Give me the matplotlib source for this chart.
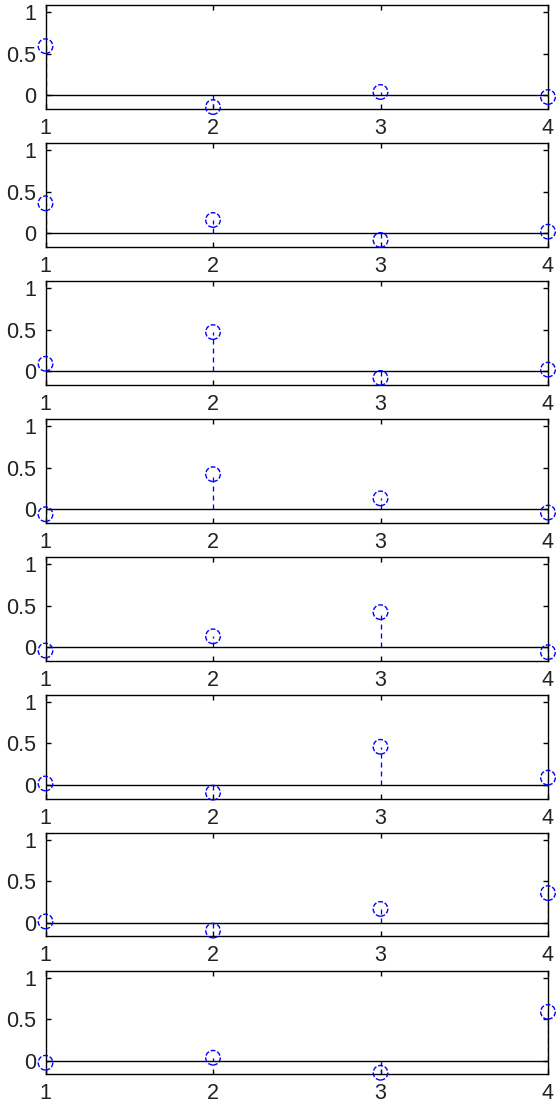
import matplotlib
matplotlib.use("Agg")
import matplotlib.pyplot as plt
from matplotlib import font_manager

# ---- data ----
x = [1, 2, 3, 4]
row1 = [0.59, -0.14, 0.04, -0.02]
row2 = [0.36, 0.16, -0.08, 0.02]
row3 = [0.09, 0.47, -0.08, 0.02]
row4 = [-0.06, 0.42, 0.13, -0.04]
row5 = [-0.04, 0.13, 0.42, -0.06]
row6 = [0.02, -0.09, 0.46, 0.09]
row7 = [0.02, -0.09, 0.17, 0.36]
row8 = [-0.02, 0.04, -0.14, 0.59]
rows = [row1, row2, row3, row4, row5, row6, row7, row8]
yticks = [0, 0.5, 1]
ytick_labels = ["0", "0.5", "1"]
xtick_labels = ["1", "2", "3", "4"]
ylim = (-0.16, 1.08)

# ---- font ----
family = "DejaVu Sans"
try:
    font_manager.findfont("Liberation Sans", fallback_to_default=False)
    family = "Liberation Sans"
except Exception:
    pass
plt.rcParams["font.family"] = [family, "DejaVu Sans"]

W, H = 556, 1108
fig = plt.figure(figsize=(W / 100, H / 100), dpi=100)
fig.patch.set_facecolor("white")

left_px, right_px = 45.5, 548.0
h_px = 103.4
top0, step = 5.3, 137.96

for i, vals in enumerate(rows):
    top = top0 + i * step
    ax = fig.add_axes([left_px / W, 1 - (top + h_px) / H,
                       (right_px - left_px) / W, h_px / H])
    markerline, stemlines, baseline = ax.stem(x, vals, linefmt="b--",
                                              markerfmt="none", basefmt="k-")
    stemlines.set_color("#0000ff")
    stemlines.set_linewidth(0.95)
    stemlines.set_linestyle((0, (3.8, 3.0)))
    baseline.set_color("black")
    baseline.set_linewidth(1.0)
    ax.scatter(x, vals, s=110, marker="o", facecolors="none",
               edgecolors="#0000ff", linewidths=1.0, linestyles=(0, (3.5, 1.4)),
               zorder=5, clip_on=False)
    ax.set_xlim(1, 4)
    ax.set_ylim(*ylim)
    ax.set_xticks(x)
    ax.set_xticklabels(xtick_labels)
    ax.set_yticks(yticks)
    ax.set_yticklabels(ytick_labels)
    ax.tick_params(direction="in", top=True, right=True, length=3.8, width=1.0,
                   labelsize=15.5, colors="black")
    ax.tick_params(axis="y", pad=7)
    ax.tick_params(axis="x", pad=6.5)
    for sp in ax.spines.values():
        sp.set_linewidth(1.0)
        sp.set_color("black")
    for lab in ax.get_xticklabels() + ax.get_yticklabels():
        lab.set_color("#222222")

fig.savefig("out.png", dpi=100, facecolor="white")
